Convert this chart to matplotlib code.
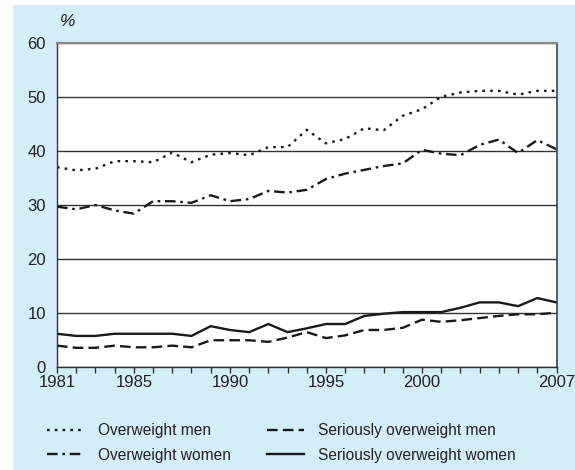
import matplotlib
matplotlib.use("Agg")
import matplotlib.pyplot as plt
from matplotlib.patches import Rectangle

plt.rcParams['font.family'] = ['Liberation Sans', 'DejaVu Sans']

years = list(range(1981, 2008))
overweight_men = [37.0, 36.4, 36.7, 38.1, 38.1, 37.9, 39.7, 37.9, 39.3, 39.6, 39.2, 40.7, 40.7,
                  43.9, 41.4, 42.2, 44.2, 43.8, 46.5, 47.7, 50.0, 50.8, 51.1, 51.1, 50.4, 51.1, 51.1]
overweight_women = [29.7, 29.2, 30.0, 29.0, 28.4, 30.7, 30.7, 30.4, 31.8, 30.7, 31.1, 32.6, 32.3,
                    32.8, 34.8, 35.8, 36.5, 37.2, 37.7, 40.2, 39.5, 39.2, 41.1, 42.1, 39.6, 42.0, 40.3]
serious_men = [4.0, 3.6, 3.6, 4.0, 3.7, 3.7, 4.0, 3.7, 5.0, 5.0, 5.0, 4.7, 5.5,
               6.5, 5.4, 5.9, 6.9, 6.9, 7.3, 8.8, 8.4, 8.7, 9.1, 9.5, 9.8, 9.8, 10.1]
serious_women = [6.2, 5.8, 5.8, 6.2, 6.2, 6.2, 6.2, 5.8, 7.6, 6.9, 6.5, 8.0, 6.5,
                 7.2, 8.0, 8.0, 9.5, 9.9, 10.2, 10.2, 10.2, 11.0, 12.0, 12.0, 11.3, 12.8, 12.0]

x_labels = [1981, 1985, 1990, 1995, 2000, 2007]
y_ticks = [0, 10, 20, 30, 40, 50, 60]

ink = '#1a1a1a'

fig = plt.figure(figsize=(5.75, 4.70), dpi=100)
fig.patches.append(Rectangle((13 / 575, 0), 1, 465 / 470, transform=fig.transFigure,
                             facecolor='#d3edf9', edgecolor='none', zorder=-1))

ax = fig.add_axes([57 / 575, 1 - 367.3 / 470, (556.5 - 57) / 575, (367.3 - 42.7) / 470])
ax.set_facecolor('white')

ax.plot(years, overweight_men, color=ink, lw=1.7, dashes=(1.1, 2.2), label='Overweight men')
ax.plot(years, overweight_women, color=ink, lw=1.7, dashes=(4.5, 2.0, 1.1, 2.0), label='Overweight women')
ax.plot(years, serious_men, color=ink, lw=1.7, dashes=(4.5, 2.2), label='Seriously overweight men')
ax.plot(years, serious_women, color=ink, lw=1.7, label='Seriously overweight women')

ax.set_xlim(1981, 2007)
ax.set_ylim(0, 60)
ax.set_yticks(y_ticks)
ax.set_xticks(x_labels)
ax.set_xticks(years, minor=True)
ax.yaxis.grid(True, color='#333333', lw=1.0)
ax.set_axisbelow(True)

ax.tick_params(axis='y', length=0, pad=8, labelsize=12, labelcolor='#222222')
ax.tick_params(axis='x', which='both', direction='out', length=4, width=1, color='#333333',
               pad=1.5, labelsize=12, labelcolor='#222222')

for side in ['left', 'bottom']:
    ax.spines[side].set_color('#333333')
    ax.spines[side].set_linewidth(1.0)
ax.spines['top'].set_color('#888888')
ax.spines['top'].set_linewidth(1.5)
ax.spines['right'].set_color('#444444')
ax.spines['right'].set_linewidth(1.2)

fig.text(60 / 575, 1 - 22 / 470, '%', fontsize=12.5, style='italic', color='#222222', va='center')

handles, labels = ax.get_legend_handles_labels()
fig.legend(handles, labels, ncol=2, loc='upper left', bbox_to_anchor=(47 / 575, 1 - 423 / 470),
           frameon=False, fontsize=11.2, handlelength=2.35, handletextpad=0.95,
           columnspacing=2.3, labelspacing=0.62, borderpad=0, borderaxespad=0,
           labelcolor='#222222')

fig.savefig('out.png', dpi=100)
